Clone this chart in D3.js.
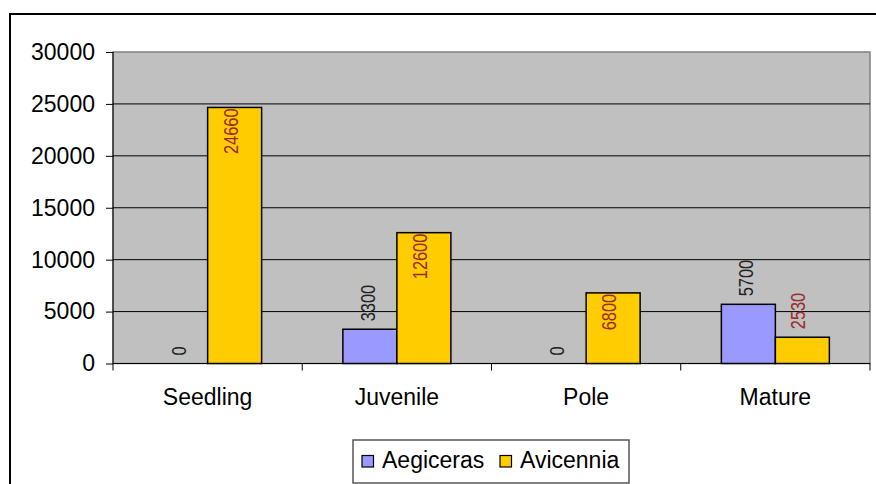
<!DOCTYPE html>
<html>
<head>
<meta charset="utf-8">
<script src="https://cdnjs.cloudflare.com/ajax/libs/d3/7.8.5/d3.min.js"></script>
<style>
	body { margin: 0; background: #fff; }
	svg { display: block; font-family: "Liberation Sans", Arial, sans-serif; }
</style>
</head>
<body>
<svg></svg>
<script>
var WIDTH = 876;
var HEIGHT = 484;

// data
var categories = ['Seedling', 'Juvenile', 'Pole', 'Mature'];
var seriesNames = ['Aegiceras', 'Avicennia'];
var aegicerasValues = [0, 3300, 0, 5700];
var avicenniaValues = [24660, 12600, 6800, 2530];
var yTicks = [0, 5000, 10000, 15000, 20000, 25000, 30000];

var seriesColors = { Aegiceras: '#9999FF', Avicennia: '#FFCC00' };
var labelColors = { Aegiceras: '#222222', Avicennia: '#9C2A2A' };

var svg = d3.select('svg')
	.attr('width', WIDTH)
	.attr('height', HEIGHT);

// outer chart frame (runs off the right / bottom edge)
svg.append('rect')
	.attr('x', 10).attr('y', 14)
	.attr('width', 900).attr('height', 520)
	.attr('fill', 'none')
	.attr('stroke', '#000')
	.attr('stroke-width', 2);

var plotLeft = 113, plotRight = 870, plotTop = 52, plotBottom = 363.5;

var x = d3.scaleBand()
	.domain(categories)
	.range([plotLeft, plotRight])
	.paddingInner(0.4293)
	.paddingOuter(0.2147);

var xSeries = d3.scaleBand()
	.domain(seriesNames)
	.range([0, x.bandwidth()]);

var y = d3.scaleLinear()
	.domain([0, 30000])
	.range([plotBottom, plotTop]);

// plot area
svg.append('rect')
	.attr('x', plotLeft).attr('y', plotTop)
	.attr('width', plotRight - plotLeft).attr('height', plotBottom - plotTop)
	.attr('fill', '#C0C0C0')
	.attr('stroke', '#808080')
	.attr('stroke-width', 1.5);

// gridlines
svg.append('g').selectAll('line')
	.data(yTicks.filter(function(d){ return d > 0 && d < 30000; }))
	.enter().append('line')
	.attr('x1', plotLeft).attr('x2', plotRight)
	.attr('y1', function(d){ return y(d); })
	.attr('y2', function(d){ return y(d); })
	.attr('stroke', '#000')
	.attr('stroke-width', 1);

// y axis
var leftAxis = d3.axisLeft(y).tickValues(yTicks).tickSize(7).tickPadding(11).tickFormat(d3.format('d'));
var yAxisG = svg.append('g')
	.attr('transform', 'translate(' + plotLeft + ',0)')
	.call(leftAxis);
yAxisG.select('.domain').remove();
yAxisG.append('line')
	.attr('x1', 0).attr('x2', 0)
	.attr('y1', plotTop).attr('y2', plotBottom)
	.attr('stroke', '#000');
yAxisG.selectAll('text')
	.attr('font-size', 23)
	.attr('fill', '#000')
	.attr('font-family', '"Liberation Sans", Arial, sans-serif');
yAxisG.selectAll('line').attr('stroke', '#000');

// x axis: ticks between categories
var boundaries = d3.range(categories.length + 1).map(function(i){
	return plotLeft + i * x.step();
});
var xAxisG = svg.append('g');
xAxisG.append('line')
	.attr('x1', plotLeft).attr('x2', plotRight)
	.attr('y1', plotBottom).attr('y2', plotBottom)
	.attr('stroke', '#000');
xAxisG.selectAll('.tick')
	.data(boundaries)
	.enter().append('line')
	.attr('x1', function(d){ return d; })
	.attr('x2', function(d){ return d; })
	.attr('y1', plotBottom).attr('y2', plotBottom + 7)
	.attr('stroke', '#000');
xAxisG.selectAll('text')
	.data(categories)
	.enter().append('text')
	.attr('x', function(d){ return x(d) + x.bandwidth() / 2; })
	.attr('y', 405)
	.attr('text-anchor', 'middle')
	.attr('font-size', 23)
	.attr('fill', '#000')
	.text(function(d){ return d; });

// bars
var rows = [];
categories.forEach(function(c, i){
	rows.push({ cat: c, series: 'Aegiceras', value: aegicerasValues[i] });
	rows.push({ cat: c, series: 'Avicennia', value: avicenniaValues[i] });
});

svg.append('g').selectAll('rect')
	.data(rows.filter(function(d){ return d.value > 0; }))
	.enter().append('rect')
	.attr('x', function(d){ return x(d.cat) + xSeries(d.series); })
	.attr('y', function(d){ return y(d.value); })
	.attr('width', xSeries.bandwidth())
	.attr('height', function(d){ return y(0) - y(d.value); })
	.attr('fill', function(d){ return seriesColors[d.series]; })
	.attr('stroke', '#000')
	.attr('stroke-width', 1.5);

// rotated value labels (Avicennia labels sit inside the bar top when the bar is tall)
svg.append('g').selectAll('text')
	.data(rows)
	.enter().append('text')
	.attr('transform', function(d){
		var inside = d.series === 'Avicennia' && d.value > 5000;
		var cx = x(d.cat) + xSeries(d.series) + xSeries.bandwidth() / 2 + (d.series === 'Avicennia' ? 3 : 5);
		var cy = inside ? y(d.value) + 1 : y(d.value) - 8;
		return 'translate(' + cx + ',' + cy + ') rotate(-90) scale(0.78,1)';
	})
	.attr('text-anchor', function(d){
		return (d.series === 'Avicennia' && d.value > 5000) ? 'end' : 'start';
	})
	.attr('font-size', 21)
	.attr('fill', function(d){ return labelColors[d.series]; })
	.text(function(d){ return d.value; });

// legend
var legend = svg.append('g').attr('transform', 'translate(353,440)');
legend.append('rect')
	.attr('width', 276).attr('height', 43)
	.attr('fill', '#fff')
	.attr('stroke', '#555')
	.attr('stroke-width', 1.5);
var legendX = [9, 147];
var items = legend.selectAll('.item')
	.data(seriesNames)
	.enter().append('g')
	.attr('transform', function(d, i){ return 'translate(' + legendX[i] + ',0)'; });
items.append('rect')
	.attr('x', 0).attr('y', 15.5)
	.attr('width', 11.5).attr('height', 11.5)
	.attr('fill', function(d){ return seriesColors[d]; })
	.attr('stroke', '#000')
	.attr('stroke-width', 1.2);
items.append('text')
	.attr('x', 20).attr('y', 27.7)
	.attr('font-size', 23)
	.attr('fill', '#000')
	.text(function(d){ return d; });
</script>
</body>
</html>
